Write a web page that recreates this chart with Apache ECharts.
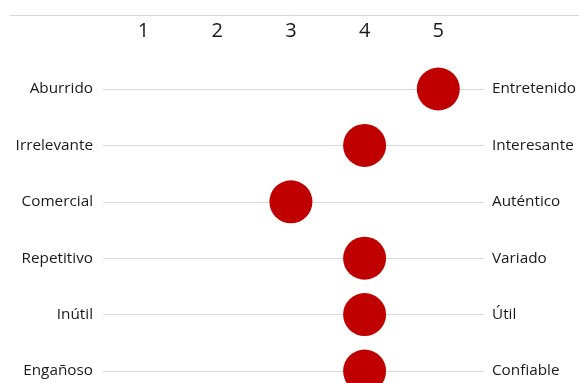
<!DOCTYPE html>
<html>
<head>
<meta charset="utf-8">
<script src="https://cdn.jsdelivr.net/npm/echarts@6/dist/echarts.min.js"></script>
<style>html,body{margin:0;padding:0;background:#fff;}#c{width:579px;height:383px;}</style>
</head>
<body>
<div id="c"></div>
<script>
var leftLabels = ['Aburrido', 'Irrelevante', 'Comercial', 'Repetitivo', 'Inútil', 'Engañoso'];
var rightLabels = ['Entretenido', 'Interesante', 'Auténtico', 'Variado', 'Útil', 'Confiable'];
var scores = [5, 4, 3, 4, 4, 4];
var tickLabels = ['1', '2', '3', '4', '5'];

var chart = echarts.init(document.getElementById('c'), null, {renderer: 'canvas'});
var FONT = 'Open Sans';
var TXT = '#1a1a1a';
chart.setOption({
  animation: false,
  backgroundColor: '#ffffff',
  graphic: [{
    type: 'line', shape: {x1: 10, y1: 15.5, x2: 579, y2: 15.5},
    style: {stroke: '#d9d9d9', lineWidth: 1}, silent: true
  }],
  grid: {left: 103, right: 94, top: 89, bottom: 12, containLabel: false},
  xAxis: {
    type: 'value', position: 'top', min: 0.45, max: 5.62,
    axisLine: {show: false}, axisTick: {show: false}, splitLine: {show: false},
    axisLabel: {
      margin: 48, fontFamily: FONT, fontSize: 20, color: TXT,
      showMinLabel: false, showMaxLabel: false,
      formatter: function (v) { return Number.isInteger(v) && v >= 1 && v <= 5 ? tickLabels[v - 1] : ''; }
    }
  },
  yAxis: [{
    type: 'category', data: leftLabels, inverse: true, boundaryGap: false, position: 'left',
    axisLine: {show: false}, axisTick: {show: false},
    splitLine: {show: true, lineStyle: {color: '#d9d9d9', width: 1}},
    axisLabel: {margin: 10, fontFamily: FONT, fontSize: 15.3, color: TXT}
  }, {
    type: 'category', data: rightLabels, inverse: true, boundaryGap: false, position: 'right',
    axisLine: {show: false}, axisTick: {show: false}, splitLine: {show: false},
    axisLabel: {margin: 8, fontFamily: FONT, fontSize: 15.3, color: TXT}
  }],
  series: [{
    type: 'scatter', clip: false, yAxisIndex: 0,
    symbol: 'circle', symbolSize: 43,
    itemStyle: {color: '#C00000', opacity: 1},
    data: scores.map(function (s, i) { return [s, i]; })
  }]
});
</script>
</body>
</html>
